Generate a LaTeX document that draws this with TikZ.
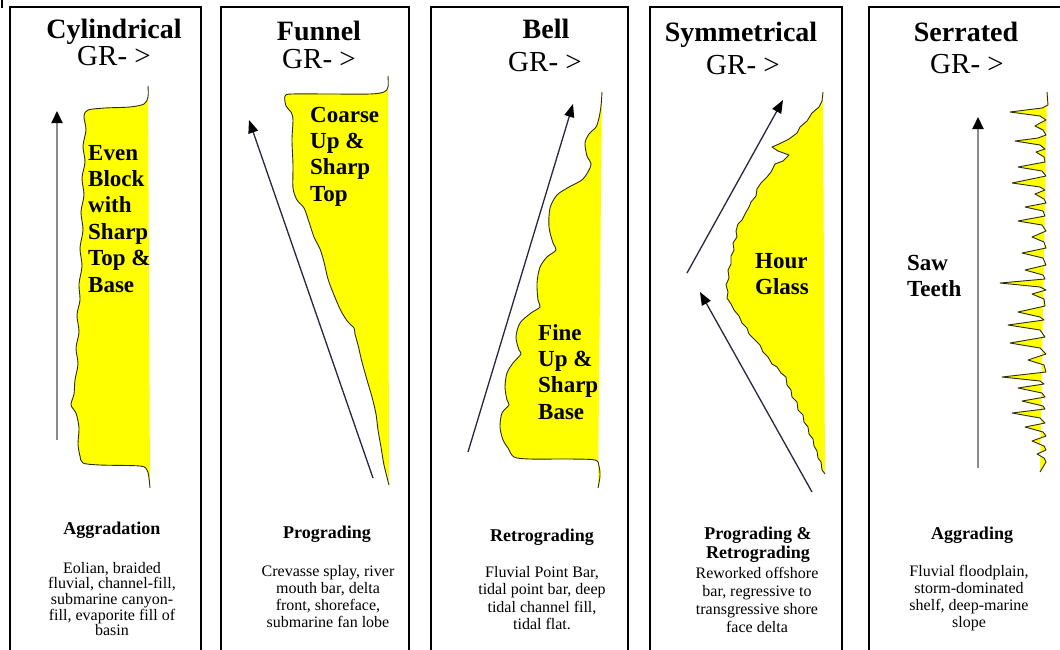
\documentclass[tikz,border=0pt]{standalone}
\usepackage{fontspec}
\setmainfont{Liberation Serif}
\usetikzlibrary{arrows.meta}
\definecolor{logyellow}{RGB}{255,255,0}
\definecolor{loglinec}{RGB}{45,45,15}
\definecolor{arrowgrey}{RGB}{140,140,140}
\definecolor{arrowdark}{RGB}{40,40,60}
\newcommand{\mlc}[1]{\begin{tabular}[t]{@{}c@{}}#1\end{tabular}}
\newcommand{\mll}[1]{\begin{tabular}[t]{@{}l@{}}#1\end{tabular}}
\begin{document}
\begin{tikzpicture}[x=1pt,y=-1pt,
  panel/.style={draw=black, line width=2pt},
  titletext/.style={anchor=base, inner sep=0pt, font=\fontsize{28}{30}\selectfont\bfseries},
  grtext/.style={anchor=base, inner sep=0pt, font=\fontsize{29}{30}\selectfont},
  bothead/.style={anchor=base, inner sep=0pt, font=\fontsize{18}{19.5}\selectfont\bfseries},
  botdesc/.style={anchor=base, inner sep=0pt, font=\fontsize{16}{17}\selectfont},
  intext/.style={anchor=base west, inner sep=0pt, font=\fontsize{23}{26.4}\selectfont\bfseries},
  logcurve/.style={draw=loglinec, line width=0.9pt, line join=round, preaction={fill=logyellow}},
  greyarrow/.style={draw=arrowgrey, line width=2pt, -{Triangle[length=12pt,width=11pt,color=black]}},
  darkarrow/.style={draw=arrowdark, line width=1.3pt, -{Triangle[length=13pt,width=10pt,color=black]}}
]
\path[use as bounding box, fill=white] (0,0) rectangle (1060,649);
\clip (0,0) rectangle (1060,649);
\draw[line width=1.5pt] (2,0) -- (2,8);

% panels
\draw[panel] (10,7) rectangle (201,660);
\draw[panel] (221,7) rectangle (409,660);
\draw[panel] (431,7) rectangle (628,660);
\draw[panel] (650,7) rectangle (842,660);
\draw[panel] (869,7) rectangle (1080,660);

% titles
\node[titletext] (t1) at (114,38) {Cylindrical};
\node[grtext] (g1) at (114,65) {GR- >};
\node[titletext] (t2) at (319,40) {Funnel};
\node[grtext] (g2) at (319,68) {GR- >};
\node[titletext] (t3) at (546,38) {Bell};
\node[grtext] (g3) at (545,71) {GR- >};
\node[titletext] (t4) at (741,41) {Symmetrical};
\node[grtext] (g4) at (743,74) {GR- >};
\node[titletext] (t5) at (966,41) {Serrated};
\node[grtext] (g5) at (967,73) {GR- >};

% panel 1 : cylindrical
\draw[logcurve] plot[smooth] coordinates {(148,86) (148,97) (144,104) (130,107) (105,108) (88,110) (84,116) (86,130) (83,146) (85,162) (82,178) (84,195) (81,212) (83,230) (80,248) (82,266) (79,284) (80,300) (77,315) (79,332) (76,348) (78,364) (75,380) (74,394) (71,405) (76,413) (79,428) (78,444) (80,456) (83,463) (100,465) (140,466) (147,470) (149,478) (150,488)};
\coordinate (a1s) at (57,440);
\coordinate (a1e) at (57,111);
\draw[greyarrow] (a1s) -- (a1e);
\node[intext] (i1) at (88,160) {\mll{Even\\Block\\with\\Sharp\\Top \&\\Base}};

% panel 2 : funnel
\draw[logcurve] plot[smooth] coordinates {(388,76) (388,87) (384,92) (370,94) (330,94) (292,94) (285,96) (286,106) (291,112) (293,120) (292,140) (293,165) (293,188) (297,200) (304,208) (309,222) (314,237) (320,249) (324,262) (328,279) (334,295) (341,311) (348,322) (354,328) (355,334) (358,345) (362,362) (367,380) (372,397) (376,414) (378,430) (381,447) (384,465) (389,485)};
\coordinate (a2s) at (373,478);
\coordinate (a2e) at (249,120);
\draw[darkarrow] (a2s) -- (a2e);
\node[intext] (i2) at (310,122) {\mll{Coarse\\Up \&\\Sharp\\Top}};

% panel 3 : bell
\draw[logcurve] plot[smooth] coordinates {(602,92) (601,106) (599,118) (596,127) (589,134) (585,143) (587,156) (591,165) (583,179) (569,187) (557,195) (550,208) (549,227) (553,243) (556,250) (547,257) (540,267) (537,283) (538,300) (540,307) (531,313) (520,323) (516,337) (519,350) (521,354) (513,363) (507,373) (505,387) (507,400) (509,405) (502,413) (500,427) (503,440) (508,448) (514,457) (530,459) (570,459) (595,460) (599,466) (600,476) (598,488)};
\coordinate (a3s) at (468,452);
\coordinate (a3e) at (573,104);
\draw[darkarrow] (a3s) -- (a3e);
\node[intext] (i3) at (538,340) {\mll{Fine\\Up \&\\Sharp\\Base}};

% panel 4 : symmetrical
\draw[logcurve] (823,92) -- (822,101) -- (819,107) -- (812,113) -- (807,121) -- (800,127) -- (797,133) -- (789,139) -- (779,144) -- (772,147) -- (778,151) -- (789,155) -- (783,161) -- (775,164) -- (771,172) -- (767,177) -- (761,183) -- (757,189) -- (756,196) -- (751,202) -- (749,207) -- (745,214) -- (742,220) -- (738,224) -- (736,231) -- (737,237) -- (733,243) -- (734,250) -- (731,256) -- (731,264) -- (728,270) -- (729,278) -- (726,285) -- (728,292) -- (727,298) -- (731,304) -- (734,310) -- (739,316) -- (742,323) -- (747,328) -- (749,334) -- (754,339) -- (760,345) -- (763,352) -- (768,357) -- (772,364) -- (777,367) -- (781,373) -- (786,377) -- (787,385) -- (791,390) -- (792,397) -- (797,402) -- (798,410) -- (803,415) -- (804,422) -- (808,427) -- (809,434) -- (813,439) -- (814,446) -- (817,451) -- (818,458) -- (821,462) -- (822,470) -- (825,474);
\coordinate (a4s) at (687,273);
\coordinate (a4e) at (783,100);
\draw[darkarrow] (a4s) -- (a4e);
\coordinate (a5s) at (812,492);
\coordinate (a5e) at (700,292);
\draw[darkarrow] (a5s) -- (a5e);
\node[intext] (i4) at (755,268) {\mll{Hour\\Glass}};

% panel 5 : serrated
\draw[logcurve] (1047,92) -- (1048,105) -- (1042,108) -- (1010,112) -- (1040,116) -- (1046,120) -- (1040,123) -- (1035,126) -- (1043,130) -- (1046,135) -- (1038,138) -- (1015,141) -- (1040,145) -- (1045,149) -- (1036,152) -- (1044,157) -- (1045,162) -- (1018,167) -- (1042,171) -- (1046,176) -- (1012,183) -- (1040,187) -- (1045,190) -- (1035,194) -- (1044,199) -- (1046,203) -- (1025,207) -- (1043,211) -- (1045,216) -- (1018,221) -- (1042,225) -- (1046,231) -- (1032,237) -- (1044,242) -- (1046,248) -- (1022,253) -- (1043,258) -- (1046,265) -- (1025,270) -- (1043,275) -- (1045,279) -- (1000,283) -- (1040,287) -- (1046,290) -- (1032,294) -- (1044,299) -- (1045,306) -- (1018,312) -- (1040,317) -- (1044,320) -- (1008,325) -- (1040,330) -- (1045,337) -- (1010,343) -- (1040,348) -- (1046,354) -- (1028,360) -- (1044,365) -- (1046,372) -- (1002,377) -- (1040,381) -- (1044,384) -- (1018,388) -- (1042,393) -- (1045,397) -- (1022,401) -- (1043,406) -- (1045,409) -- (1012,413) -- (1040,418) -- (1045,423) -- (1025,427) -- (1043,432) -- (1046,436) -- (1032,441) -- (1044,446) -- (1046,450) -- (1037,454) -- (1044,458) -- (1046,462) -- (1040,472);
\coordinate (a6s) at (978,468);
\coordinate (a6e) at (978,117);
\draw[greyarrow] (a6s) -- (a6e);
\node[intext] (i5) at (907,270) {\mll{Saw\\Teeth}};

% bottom texts
\node[bothead] (h1) at (112,534) {Aggradation};
\node[botdesc, font=\fontsize{16}{15}\selectfont] (d1) at (112,573) {\mlc{Eolian, braided\\fluvial, channel-fill,\\submarine canyon-\\fill, evaporite fill of\\basin}};
\node[bothead] (h2) at (327,538) {Prograding};
\node[botdesc] (d2) at (328,576) {\mlc{Crevasse splay, river\\mouth bar, delta\\front, shoreface,\\submarine fan lobe}};
\node[bothead] (h3) at (542,541) {Retrograding};
\node[botdesc, font=\fontsize{16}{17.5}\selectfont] (d3) at (542,577) {\mlc{Fluvial Point Bar,\\tidal point bar, deep\\tidal channel fill,\\tidal flat.}};
\node[bothead] (h4) at (758,539) {\mlc{Prograding \&\\Retrograding}};
\node[botdesc, font=\fontsize{16}{18}\selectfont] (d4) at (757,578) {\mlc{Reworked offshore\\bar, regressive to\\transgressive shore\\face delta}};
\node[bothead] (h5) at (972,539) {Aggrading};
\node[botdesc] (d5) at (969,576) {\mlc{Fluvial floodplain,\\storm-dominated\\shelf, deep-marine\\slope}};
\end{tikzpicture}
\end{document}
